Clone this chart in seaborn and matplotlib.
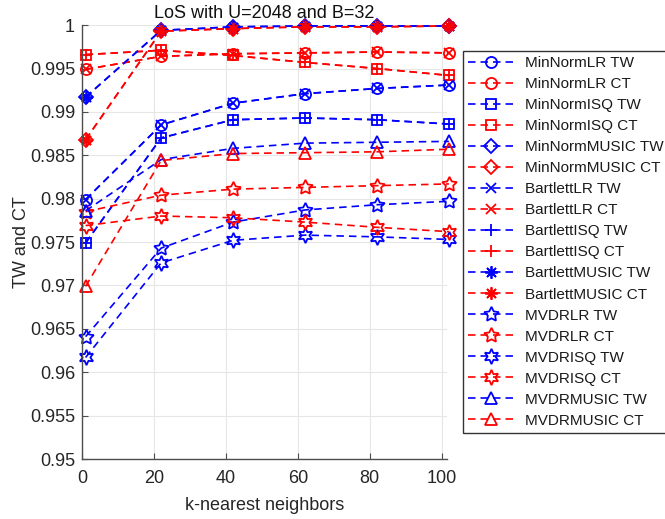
import numpy as np
import pandas as pd
import matplotlib
matplotlib.use("Agg")
import matplotlib.pyplot as plt
import seaborn as sns

k = [1, 22, 42, 62, 82, 102]

labels = ["MinNormLR TW", "MinNormLR CT", "MinNormISQ TW", "MinNormISQ CT",
          "MinNormMUSIC TW", "MinNormMUSIC CT", "BartlettLR TW", "BartlettLR CT",
          "BartlettISQ TW", "BartlettISQ CT", "BartlettMUSIC TW", "BartlettMUSIC CT",
          "MVDRLR TW", "MVDRLR CT", "MVDRISQ TW", "MVDRISQ CT",
          "MVDRMUSIC TW", "MVDRMUSIC CT"]

lr_tw = [0.9799, 0.9885, 0.9910, 0.9921, 0.9927, 0.9931]
lr_ct = [0.9949, 0.9964, 0.9967, 0.9968, 0.9969, 0.9968]
isq_tw = [0.9749, 0.9870, 0.9891, 0.9893, 0.9891, 0.9886]
isq_ct = [0.9966, 0.9971, 0.9965, 0.9957, 0.9950, 0.9942]
music_tw = [0.9917, 0.9994, 0.9998, 0.9999, 0.9999, 0.9999]
music_ct = [0.9868, 0.9993, 0.9996, 0.9998, 0.9998, 0.9999]
mvdrlr_tw = [0.9641, 0.9743, 0.9773, 0.9787, 0.9793, 0.9797]
mvdrlr_ct = [0.9785, 0.9804, 0.9811, 0.9813, 0.9815, 0.9817]
mvdrisq_tw = [0.9617, 0.9726, 0.9752, 0.9758, 0.9756, 0.9753]
mvdrisq_ct = [0.9769, 0.9780, 0.9778, 0.9773, 0.9767, 0.9762]
mvdrmusic_tw = [0.9786, 0.9845, 0.9858, 0.9864, 0.9865, 0.9866]
mvdrmusic_ct = [0.9699, 0.9844, 0.9852, 0.9853, 0.9854, 0.9857]

series = [lr_tw, lr_ct, isq_tw, isq_ct, music_tw, music_ct,
          lr_tw, lr_ct, isq_tw, isq_ct, music_tw, music_ct,
          mvdrlr_tw, mvdrlr_ct, mvdrisq_tw, mvdrisq_ct,
          mvdrmusic_tw, mvdrmusic_ct]

markers = ["o", "o", "s", "s", "D", "D", "x", "x", "+", "+", (8, 2, 0), (8, 2, 0),
           (5, 1, 0), (5, 1, 0), (6, 1, 0), (6, 1, 0), "^", "^"]
msizes = [8, 8, 7, 7, 7, 7, 7, 7, 9, 9, 9, 9, 11, 11, 11, 11, 9, 9]
colors = ["#0000ff", "#ff0000"] * 9

sns.set_style("white")
plt.rcParams["font.family"] = ["Liberation Sans", "DejaVu Sans"]

fig = plt.figure(figsize=(6.65, 5.19), dpi=100)
ax = fig.add_axes([0.1233, 0.1156, 0.549, 0.836])

for lab, vals, mk, ms, col in zip(labels, series, markers, msizes, colors):
    df = pd.DataFrame({"k": k, "v": vals})
    sns.lineplot(data=df, x="k", y="v", ax=ax, color=col, marker=mk,
                 markersize=ms, mfc="none", mec=col, mew=1.3,
                 linestyle=(0, (4.5, 3.0)), linewidth=1.2,
                 label=lab, clip_on=False, legend=False)

ax.set_xlim(0, 101.5)
ax.set_ylim(0.95, 1.0)
ax.set_xticks([0, 20, 40, 60, 80, 100])
yt = np.arange(0.95, 1.0001, 0.005)
ax.set_yticks(yt)
ax.set_yticklabels(["%g" % round(v, 3) for v in yt])
ax.grid(True, color="#e6e6e6", linewidth=0.8)
ax.set_axisbelow(True)
for s in ["top", "right"]:
    ax.spines[s].set_visible(False)
for s in ["left", "bottom"]:
    ax.spines[s].set_color("#4d4d4d")
    ax.spines[s].set_linewidth(1.0)
ax.tick_params(direction="in", length=4, colors="#4d4d4d", labelcolor="#262626",
               labelsize=13, left=True, bottom=True)
ax.tick_params(axis="x", pad=8)
ax.tick_params(axis="y", pad=5)
ax.set_xlabel("k-nearest neighbors", fontsize=13, color="#262626")
ax.set_ylabel("TW and CT", fontsize=13, color="#262626")
ax.xaxis.set_label_coords(0.5, -0.088)
ax.yaxis.set_label_coords(-0.142, 0.5)
ax.set_title("LoS with U=2048 and B=32", fontsize=13, color="#111111", pad=5)

handles, labs = ax.get_legend_handles_labels()
leg = fig.legend(handles, labs, loc="upper left", bbox_to_anchor=(0.696, 0.902),
                 fontsize=11, frameon=True, fancybox=False, framealpha=1,
                 edgecolor="#333333", handlelength=3.0, handletextpad=0.7,
                 labelspacing=0.46, borderpad=0.35, borderaxespad=0)
leg.get_frame().set_linewidth(1.0)
for t in leg.get_texts():
    t.set_color("#1a1a1a")

fig.savefig("out.png", dpi=100)
